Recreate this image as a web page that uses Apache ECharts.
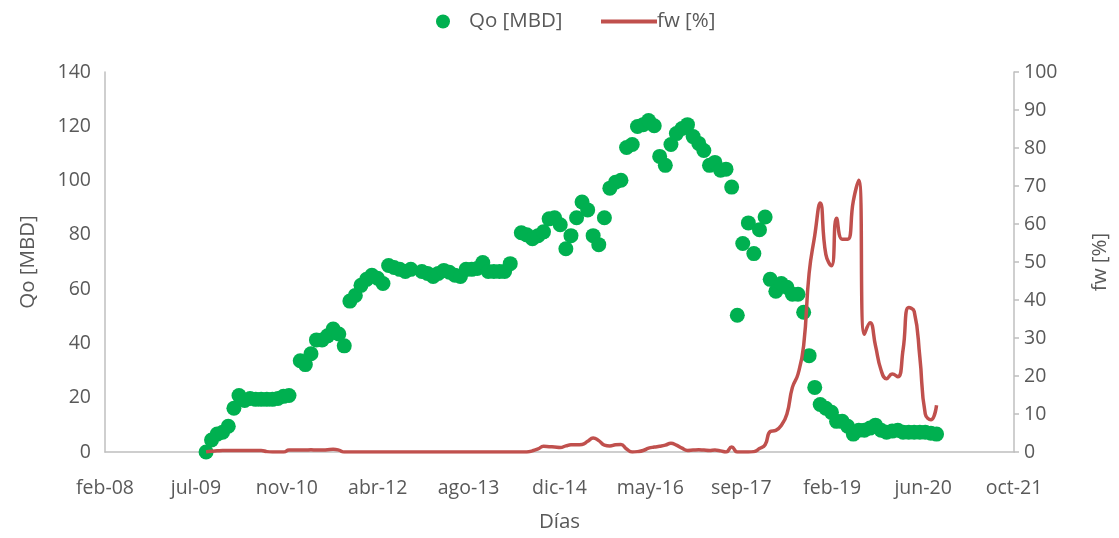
<!DOCTYPE html>
<html>
<head>
<meta charset="utf-8">
<script src="https://cdn.jsdelivr.net/npm/echarts@6/dist/echarts.min.js"></script>
<style>
  html, body { margin: 0; background: #fff; }
  #chart { width: 1119px; height: 538px; }
</style>
</head>
<body>
<div id="chart"></div>
<script>
// Qo mensual (MBD)
const qoFechas = [
  '2009-08', '2009-09', '2009-10', '2009-11', '2009-12',
  '2010-01', '2010-02', '2010-03', '2010-04', '2010-05', '2010-06', '2010-07', '2010-08', '2010-09', '2010-10', '2010-11',
  '2011-01', '2011-02', '2011-03', '2011-04', '2011-05', '2011-06', '2011-07', '2011-08', '2011-09', '2011-10', '2011-11', '2011-12',
  '2012-01', '2012-02', '2012-03', '2012-04', '2012-05', '2012-06', '2012-07', '2012-08', '2012-09', '2012-11', '2012-12',
  '2013-01', '2013-02', '2013-03', '2013-04', '2013-05', '2013-06', '2013-07', '2013-08', '2013-09', '2013-10', '2013-11', '2013-12',
  '2014-01', '2014-02', '2014-03', '2014-05', '2014-06', '2014-07', '2014-08', '2014-09', '2014-10', '2014-11', '2014-12',
  '2015-01', '2015-02', '2015-03', '2015-04', '2015-05', '2015-06', '2015-07', '2015-08', '2015-09', '2015-10', '2015-11', '2015-12',
  '2016-01', '2016-02', '2016-03', '2016-04', '2016-05', '2016-06', '2016-07', '2016-08', '2016-09', '2016-10', '2016-11', '2016-12',
  '2017-01', '2017-02', '2017-03', '2017-04', '2017-05', '2017-06', '2017-07', '2017-08', '2017-09', '2017-10', '2017-11', '2017-12',
  '2018-01', '2018-02', '2018-03', '2018-04', '2018-05', '2018-06', '2018-07', '2018-08', '2018-09', '2018-10', '2018-11', '2018-12',
  '2019-01', '2019-02', '2019-03', '2019-04', '2019-05', '2019-06', '2019-07', '2019-08', '2019-09', '2019-10', '2019-11', '2019-12',
  '2020-01', '2020-02', '2020-03', '2020-04', '2020-05', '2020-06', '2020-07', '2020-08'
];
const qoValores = [
  0, 4.4, 6.6, 7.3, 9.5,
  16.1, 20.8, 19.0, 19.7, 19.4, 19.4, 19.4, 19.4, 19.7, 20.5, 20.8,
  33.6, 32.2, 36.2, 41.3, 41.3, 42.8, 45.3, 43.5, 39.1, 55.6, 57.7, 61.4,
  63.6, 65.1, 64.0, 62.1, 68.7, 68.0, 67.3, 66.5, 67.3, 66.5, 65.8,
  64.7, 65.8, 66.9, 66.2, 65.1, 64.7, 67.3, 67.3, 67.6, 69.8, 66.5, 66.5,
  66.5, 66.5, 69.4, 80.8, 80.0, 78.6, 79.7, 81.1, 85.9, 86.3, 83.7,
  74.9, 79.7, 86.3, 92.1, 89.2, 79.7, 76.4, 86.3, 97.2, 99.4, 100.1, 112.2,
  113.3, 119.9, 120.6, 122.1, 120.2, 108.9, 105.6, 113.3, 117.3, 119.2, 120.6, 116.2,
  113.7, 111.1, 105.6, 106.7, 103.8, 104.2, 97.6, 50.4, 76.8, 84.4, 73.1, 81.9,
  86.6, 63.6, 59.2, 62.1, 60.7, 58.1, 58.1, 51.5, 35.5, 23.8, 17.5, 16.1,
  14.6, 11.3, 11.3, 9.5, 6.6, 8.0, 8.0, 8.8, 9.9, 8.0, 7.3, 7.7,
  8.0, 7.3, 7.3, 7.3, 7.3, 7.3, 6.9, 6.6
];

// fw mensual (%)
const fwFechas = [
  '2009-08', '2009-09', '2009-10', '2009-11', '2009-12',
  '2010-01', '2010-02', '2010-03', '2010-04', '2010-05', '2010-06', '2010-07', '2010-08', '2010-09', '2010-10', '2010-11', '2010-12',
  '2011-01', '2011-02', '2011-03', '2011-04', '2011-05', '2011-06', '2011-07', '2011-08', '2011-09', '2011-10', '2011-11', '2011-12',
  '2012-01', '2012-02', '2012-03', '2012-04', '2012-05', '2012-06', '2012-07', '2012-08', '2012-09', '2012-10', '2012-11', '2012-12',
  '2013-01', '2013-02', '2013-03', '2013-04', '2013-05', '2013-06', '2013-07', '2013-08', '2013-09', '2013-10', '2013-11', '2013-12',
  '2014-01', '2014-02', '2014-03', '2014-04', '2014-05', '2014-06', '2014-07', '2014-08', '2014-09', '2014-10', '2014-11', '2014-12',
  '2015-01', '2015-02', '2015-03', '2015-04', '2015-05', '2015-06', '2015-07', '2015-08', '2015-09', '2015-10', '2015-11', '2015-12',
  '2016-01', '2016-02', '2016-03', '2016-04', '2016-05', '2016-06', '2016-07', '2016-08', '2016-09', '2016-10', '2016-11', '2016-12',
  '2017-01', '2017-02', '2017-03', '2017-04', '2017-05', '2017-06', '2017-07', '2017-08', '2017-09', '2017-10', '2017-11', '2017-12',
  '2018-01', '2018-02', '2018-03', '2018-04', '2018-05', '2018-06', '2018-07', '2018-08', '2018-09', '2018-10', '2018-11', '2018-12',
  '2019-01', '2019-02', '2019-03', '2019-04', '2019-05', '2019-06', '2019-07', '2019-08', '2019-09', '2019-10', '2019-11', '2019-12',
  '2020-01', '2020-02', '2020-03', '2020-04', '2020-05', '2020-06', '2020-07', '2020-08'
];
const fwValores = [
  0, 0.2, 0.3, 0.4, 0.4,
  0.4, 0.4, 0.4, 0.4, 0.4, 0.4, 0.1, 0, 0, 0, 0.5, 0.5,
  0.5, 0.5, 0.6, 0.5, 0.5, 0.6, 0.7, 0.5, 0, 0, 0, 0,
  0, 0, 0, 0, 0, 0, 0, 0, 0, 0, 0, 0,
  0, 0, 0, 0, 0, 0, 0, 0, 0, 0, 0, 0,
  0, 0, 0, 0, 0, 0, 0.3, 0.8, 1.5, 1.4, 1.3, 1.2,
  1.6, 1.9, 1.9, 2.0, 2.8, 3.7, 3.0, 1.8, 1.6, 1.9, 2.0, 0.8,
  0, 0.1, 0.4, 1.0, 1.3, 1.5, 1.8, 2.3, 1.8, 1.0, 0.4, 0.5,
  0.6, 0.5, 0.4, 0.5, 0.3, 0, 1.3, 0, 0, 0, 0.1, 0.9,
  1.9, 5.4, 5.7, 7.0, 10, 17, 20.5, 28, 47, 57, 65.5, 52,
  49, 61.5, 56, 56, 66, 71.5, 31, 34, 28, 21.5, 19.3, 20.5,
  19.8, 27, 38, 37, 25, 10, 8.5, 12.3
];

const ejeXEtiquetas = ['feb-08', 'jul-09', 'nov-10', 'abr-12', 'ago-13', 'dic-14',
  'may-16', 'sep-17', 'feb-19', 'jun-20', 'oct-21'];

// fechas como número de serie (días desde 1899-12-30), fin de mes
const base = Date.UTC(1899, 11, 30);
function serie(mes) {
  const [a, m] = mes.split('-').map(Number);
  return (Date.UTC(a, m, 0) - base) / 86400000;
}

const xMin = 39500, xPaso = 500;
const fuente = 'Open Sans';
const gris = '#595959';

const chart = echarts.init(document.getElementById('chart'));
chart.setOption({
  animation: false,
  textStyle: { fontFamily: fuente, color: gris },
  legend: [
    {
      data: ['Qo [MBD]'],
      left: 431, top: 6,
      itemWidth: 14, itemHeight: 14,
      textStyle: { fontSize: 20.5, color: gris, fontFamily: fuente, padding: [0, 0, 0, 14] }
    },
    {
      data: [{ name: 'fw [%]', icon: 'rect' }],
      left: 596, top: 6,
      itemWidth: 56, itemHeight: 4,
      textStyle: { fontSize: 20.5, color: gris, fontFamily: fuente, padding: [0, 0, 0, -5] }
    }
  ],
  grid: { left: 105, right: 102, top: 72, bottom: 83 },
  xAxis: {
    type: 'value',
    min: xMin, max: xMin + xPaso * (ejeXEtiquetas.length - 1), interval: xPaso,
    name: 'Días', nameLocation: 'middle', nameGap: 60,
    nameTextStyle: { fontSize: 20.5, color: gris },
    axisLine: { show: true, onZero: false, lineStyle: { color: '#BFBFBF', width: 1.5 } },
    axisTick: { show: false },
    splitLine: { show: false },
    axisLabel: {
      fontSize: 19.5, color: gris, margin: 26,
      formatter: v => ejeXEtiquetas[Math.round((v - xMin) / xPaso)]
    }
  },
  yAxis: [
    {
      type: 'value', min: 0, max: 140, interval: 20,
      name: 'Qo [MBD]', nameLocation: 'middle', nameGap: 66, nameRotate: 90,
      nameTextStyle: { fontSize: 20.5, color: gris },
      axisLine: { show: true, lineStyle: { color: '#BFBFBF', width: 1.5 } },
      axisTick: { show: false },
      splitLine: { show: false },
      axisLabel: { fontSize: 19.5, color: gris, margin: 14 }
    },
    {
      type: 'value', min: 0, max: 100, interval: 10, position: 'right',
      name: 'fw [%]', nameLocation: 'middle', nameGap: 76, nameRotate: 90,
      nameTextStyle: { fontSize: 20.5, color: gris },
      axisLine: { show: true, lineStyle: { color: '#BFBFBF', width: 1.5 } },
      axisTick: { show: true, inside: false, length: 5, lineStyle: { color: '#BFBFBF', width: 1.5 } },
      splitLine: { show: false },
      axisLabel: { fontSize: 19.5, color: gris, margin: 10 }
    }
  ],
  series: [
    {
      name: 'Qo [MBD]',
      type: 'scatter',
      yAxisIndex: 0,
      symbol: 'circle',
      symbolSize: 15,
      itemStyle: { color: '#00B050', opacity: 1 },
      data: qoFechas.map((f, i) => [serie(f), qoValores[i]]),
      z: 2
    },
    {
      name: 'fw [%]',
      type: 'line',
      yAxisIndex: 1,
      symbol: 'none',
      smooth: 0.5,
      lineStyle: { color: '#C0504D', width: 3.5 },
      itemStyle: { color: '#C0504D' },
      data: fwFechas.map((f, i) => [serie(f), fwValores[i]]),
      z: 3
    }
  ]
});
</script>
</body>
</html>
